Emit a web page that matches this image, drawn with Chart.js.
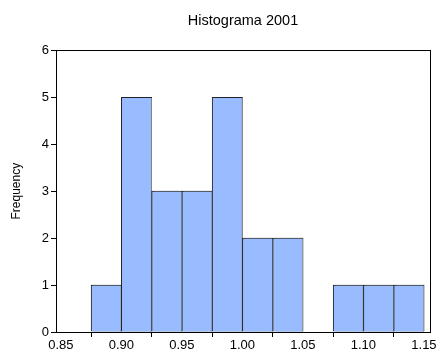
<!DOCTYPE html>
<html>
<head>
<meta charset="utf-8">
<script src="https://cdn.jsdelivr.net/npm/chart.js@4.4.1/dist/chart.umd.min.js"></script>
<style>
  html, body { margin: 0; padding: 0; background: #fff; }
</style>
</head>
<body>
<canvas id="hist" width="438" height="352"></canvas>
<script>
// histogram bins (lower edges) and counts
const binWidth = 0.025;
const binStarts = [0.875, 0.900, 0.925, 0.950, 0.975, 1.000, 1.025, 1.050, 1.075, 1.100, 1.125];
const counts    = [1, 5, 3, 3, 5, 2, 2, 0, 1, 1, 1];
const xTicks = [0.85, 0.90, 0.95, 1.00, 1.05, 1.10, 1.15];
const yTicks = [0, 1, 2, 3, 4, 5, 6];

const FONT = '"Liberation Sans", Arial, sans-serif';

// frame around the plot area
const frame = {
  id: 'frame',
  afterDraw(chart) {
    const a = chart.chartArea, ctx = chart.ctx;
    ctx.save();
    ctx.strokeStyle = '#000';
    ctx.lineWidth = 1;
    ctx.strokeRect(Math.round(a.left) + 0.5, Math.round(a.top) + 0.5,
                   Math.round(a.right - a.left), Math.round(a.bottom - a.top));
    ctx.restore();
  }
};

// little grey drop shadow on the bars
const shadow = {
  id: 'shadow',
  beforeDatasetsDraw(chart) {
    const ctx = chart.ctx;
    ctx.save();
    ctx.shadowColor = '#8a8a8a';
    ctx.shadowOffsetX = 2;
    ctx.shadowOffsetY = 0;
    ctx.shadowBlur = 0;
  },
  afterDatasetsDraw(chart) {
    chart.ctx.restore();
  }
};

new Chart(document.getElementById('hist').getContext('2d'), {
  type: 'bar',
  data: {
    datasets: [{
      data: binStarts.map((s, i) => ({ x: s + binWidth / 2, y: counts[i] })),
      backgroundColor: '#99bbff',
      borderColor: '#222',
      borderWidth: 1,
      barPercentage: 1,
      categoryPercentage: 1
    }]
  },
  options: {
    responsive: false,
    animation: false,
    devicePixelRatio: 1,
    layout: { padding: { left: 0, right: 8, top: 0, bottom: 0 } },
    plugins: {
      legend: { display: false },
      tooltip: { enabled: false },
      title: {
        display: true,
        fullSize: false,
        text: 'Histograma 2001',
        color: '#000',
        font: { family: FONT, size: 14.5, weight: 'normal' },
        padding: { top: 12, bottom: 21 }
      }
    },
    scales: {
      x: {
        type: 'linear',
        min: 0.846,
        max: 1.155,
        offset: false,
        border: { display: false },
        grid: { display: true, drawOnChartArea: false, tickLength: 5, color: '#000' },
        afterFit(s) { s.height = 20; },
        afterBuildTicks(s) { s.ticks = xTicks.map(v => ({ value: v })); },
        ticks: {
          includeBounds: false,
          padding: 1,
          color: '#000',
          font: { family: FONT, size: 13 },
          maxRotation: 0,
          autoSkip: false,
          callback: v => v.toFixed(2)
        }
      },
      y: {
        min: 0,
        max: 6,
        border: { display: false },
        grid: { display: true, drawOnChartArea: false, tickLength: 5, color: '#000' },
        afterFit(s) { s.width = 56; },
        afterBuildTicks(s) { s.ticks = yTicks.map(v => ({ value: v })); },
        title: {
          display: true,
          text: 'Frequency',
          color: '#000',
          font: { family: FONT, size: 12 },
          padding: { top: 9, bottom: 0 }
        },
        ticks: {
          padding: 2,
          color: '#000',
          font: { family: FONT, size: 13 }
        }
      }
    }
  },
  plugins: [shadow, frame]
});
</script>
</body>
</html>
